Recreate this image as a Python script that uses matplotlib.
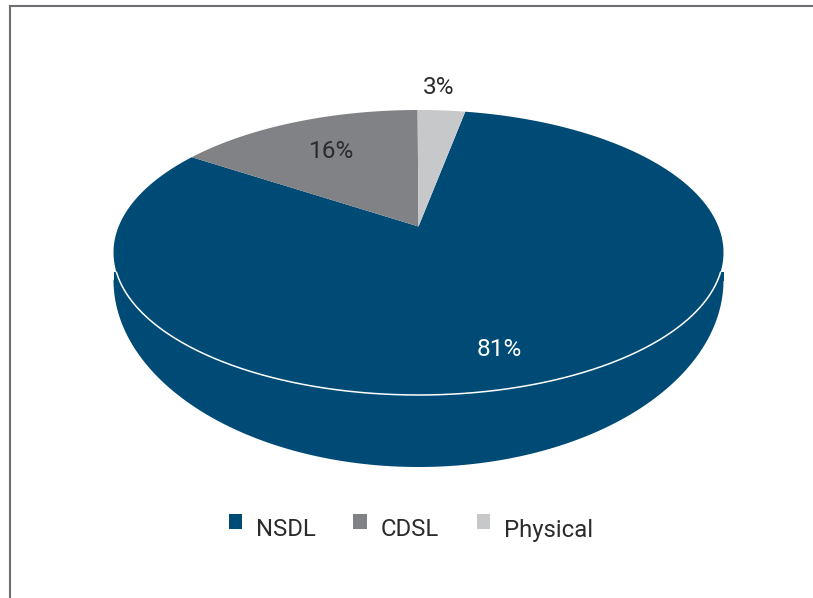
import numpy as np
import matplotlib.pyplot as plt
from matplotlib.patches import Patch

labels = ['NSDL', 'CDSL', 'Physical']
shares = [81.4, 15.6, 3.0]  # as drawn, the printed labels are rounded
pct_text = ['81%', '16%', '3%']
colors = ['#004B76', '#808285', '#C7C8CA']
text_colors = ['white', '#2B2B2D', '#2B2B2D']
text_pos = [(499, 349), (332, 152), (439, 88)]

# top face of the pie, in pixels
cx, cy, rx, ry = 418.5, 252.5, 305, 142.5
apex_y = 226.5
first_angle = 10.6  # clockwise from 12 o'clock

plt.rcParams['font.family'] = ['Roboto', 'DejaVu Sans']

fig = plt.figure(figsize=(8.13, 5.98), dpi=100)
ax = fig.add_axes([0, 0, 1, 1])
ax.set_xlim(0, 813)
ax.set_ylim(598, 0)
ax.axis('off')

# page frame, top and left only
ax.plot([9.5, 9.5, 813], [598, 5.5, 5.5], color='#6D6E71', lw=1.5, solid_joinstyle='miter')


# the disc is seen in perspective so the centre sits above the middle of the ellipse
def project(angle_deg):
    t = np.radians(angle_deg)
    u, v = np.sin(t), np.cos(t)
    a = (cy - apex_y) / ry
    w = 1 + a * v
    x = cx + rx * np.sqrt(1 - a ** 2) * u / w
    y = cy - ry * (v + a) / w
    return x, y


# side wall
low_cy, low_ry = 280, 187
t = np.linspace(0, np.pi, 300)
ax.fill(cx + rx * np.cos(t), low_cy + low_ry * np.sin(t), color=colors[0], lw=0)
ax.fill([cx - rx, cx + rx, cx + rx, cx - rx], [272, 272, low_cy + 1, low_cy + 1], color=colors[0], lw=0)

# slices
start = first_angle
for share, color in zip(shares, colors):
    sweep = share / sum(shares) * 360
    xs, ys = project(np.linspace(start, start + sweep, 200))
    ax.fill(np.r_[cx, xs], np.r_[apex_y, ys], color=color, lw=0)
    start += sweep

# white rim on the front edge
t = np.radians(np.linspace(8, 172, 300))
ax.plot(cx + rx * np.cos(t), cy + ry * np.sin(t), color='white', lw=1.1)

for s, c, p in zip(pct_text, text_colors, text_pos):
    ax.text(p[0], p[1], s, color=c, fontsize=17.6, ha='center', va='center')

handles = [Patch(facecolor=c, edgecolor='none') for c in colors]
leg = ax.legend(handles, labels, loc='center', bbox_to_anchor=(411, 530),
                bbox_transform=ax.transData, ncol=3, frameon=False, fontsize=17.2,
                handlelength=0.58, handleheight=0.58, handletextpad=0.58,
                columnspacing=1.56, borderpad=0, labelcolor='#2B2B2D')
for h in leg.get_patches():
    h.set_y(h.get_y() + 4.5)

fig.savefig('out.png', dpi=100)
